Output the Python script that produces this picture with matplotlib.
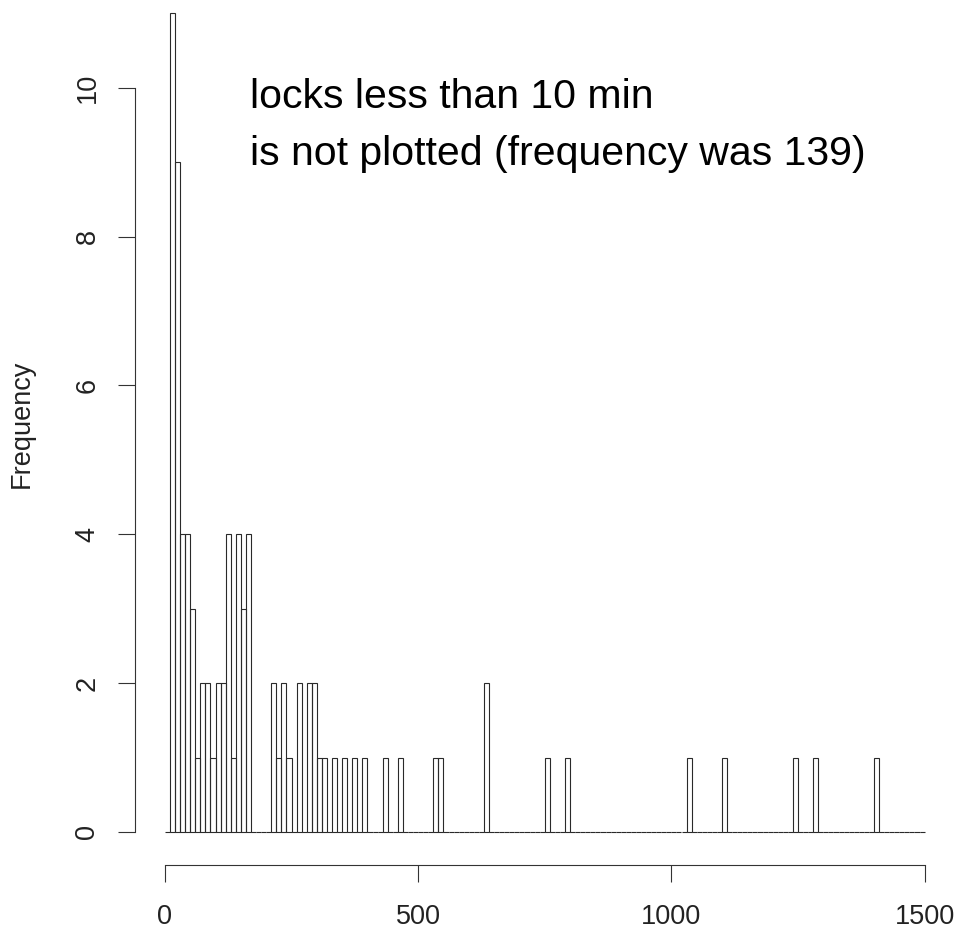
import numpy as np
import matplotlib
matplotlib.use('Agg')
import matplotlib.pyplot as plt

plt.rcParams['font.family'] = ['Liberation Sans', 'DejaVu Sans']

# histogram of lock durations (minutes), 10-minute bins from 0 to 1500
# only the non-empty bins are listed (left edge of bin, count)
bin_starts = [10, 20, 30, 40, 50, 60, 70, 80, 90, 100, 110, 120, 130, 140, 150, 160,
              210, 220, 230, 240, 260, 280, 290, 300, 310, 330, 350, 370, 390,
              430, 460, 530, 540, 630, 750, 790, 1030, 1100, 1240, 1280, 1400]
counts = [11, 9, 4, 4, 3, 1, 2, 2, 1, 2, 2, 4, 1, 4, 3, 4,
          2, 1, 2, 1, 2, 2, 2, 1, 1, 1, 1, 1, 1,
          1, 1, 1, 1, 2, 1, 1, 1, 1, 1, 1, 1]
bin_width = 10
x_max = 1500

x_ticks = [0, 500, 1000, 1500]
y_ticks = [0, 2, 4, 6, 8, 10]
note = "locks less than 10 min\nis not plotted (frequency was 139)"

breaks = np.arange(0, x_max + bin_width, bin_width)
freq = np.zeros(len(breaks) - 1)
for s, c in zip(bin_starts, counts):
    freq[s // bin_width] = c

W, H = 957, 932
fig = plt.figure(figsize=(W / 100, H / 100), dpi=100)
ax = fig.add_axes([134.5 / W, (H - 864.7) / H, 820.5 / W, 864.7 / H])

ax.bar(breaks[:-1], freq, width=bin_width, align='edge', fill=False,
       edgecolor='#2a2a2a', linewidth=0.8)

ax.set_xlim(-60, 1560)
ax.set_ylim(-0.44, 11.18)
for side in ['top', 'right']:
    ax.spines[side].set_visible(False)
ax.spines['left'].set_bounds(0, 10)
ax.spines['bottom'].set_bounds(0, 1500)
for side in ['left', 'bottom']:
    ax.spines[side].set_linewidth(0.8)
    ax.spines[side].set_color('#333333')

ax.set_xticks(x_ticks)
ax.set_yticks(y_ticks)
ax.tick_params(direction='out', length=12.5, width=0.8, color='#333333',
               labelsize=19.5, labelcolor='#222222')
ax.tick_params(axis='x', pad=16)
ax.tick_params(axis='y', pad=12, labelrotation=90)
for lab in ax.get_yticklabels():
    lab.set_va('center')

fig.text(22 / W, 1 - 424 / H, 'Frequency', rotation=90, ha='center', va='center',
         fontsize=19.5, color='#222222')
fig.text(250 / W, 1 - 78 / H, note, ha='left', va='top', fontsize=29.5,
         linespacing=1.62, color='black')

fig.savefig('out.png', dpi=100)
